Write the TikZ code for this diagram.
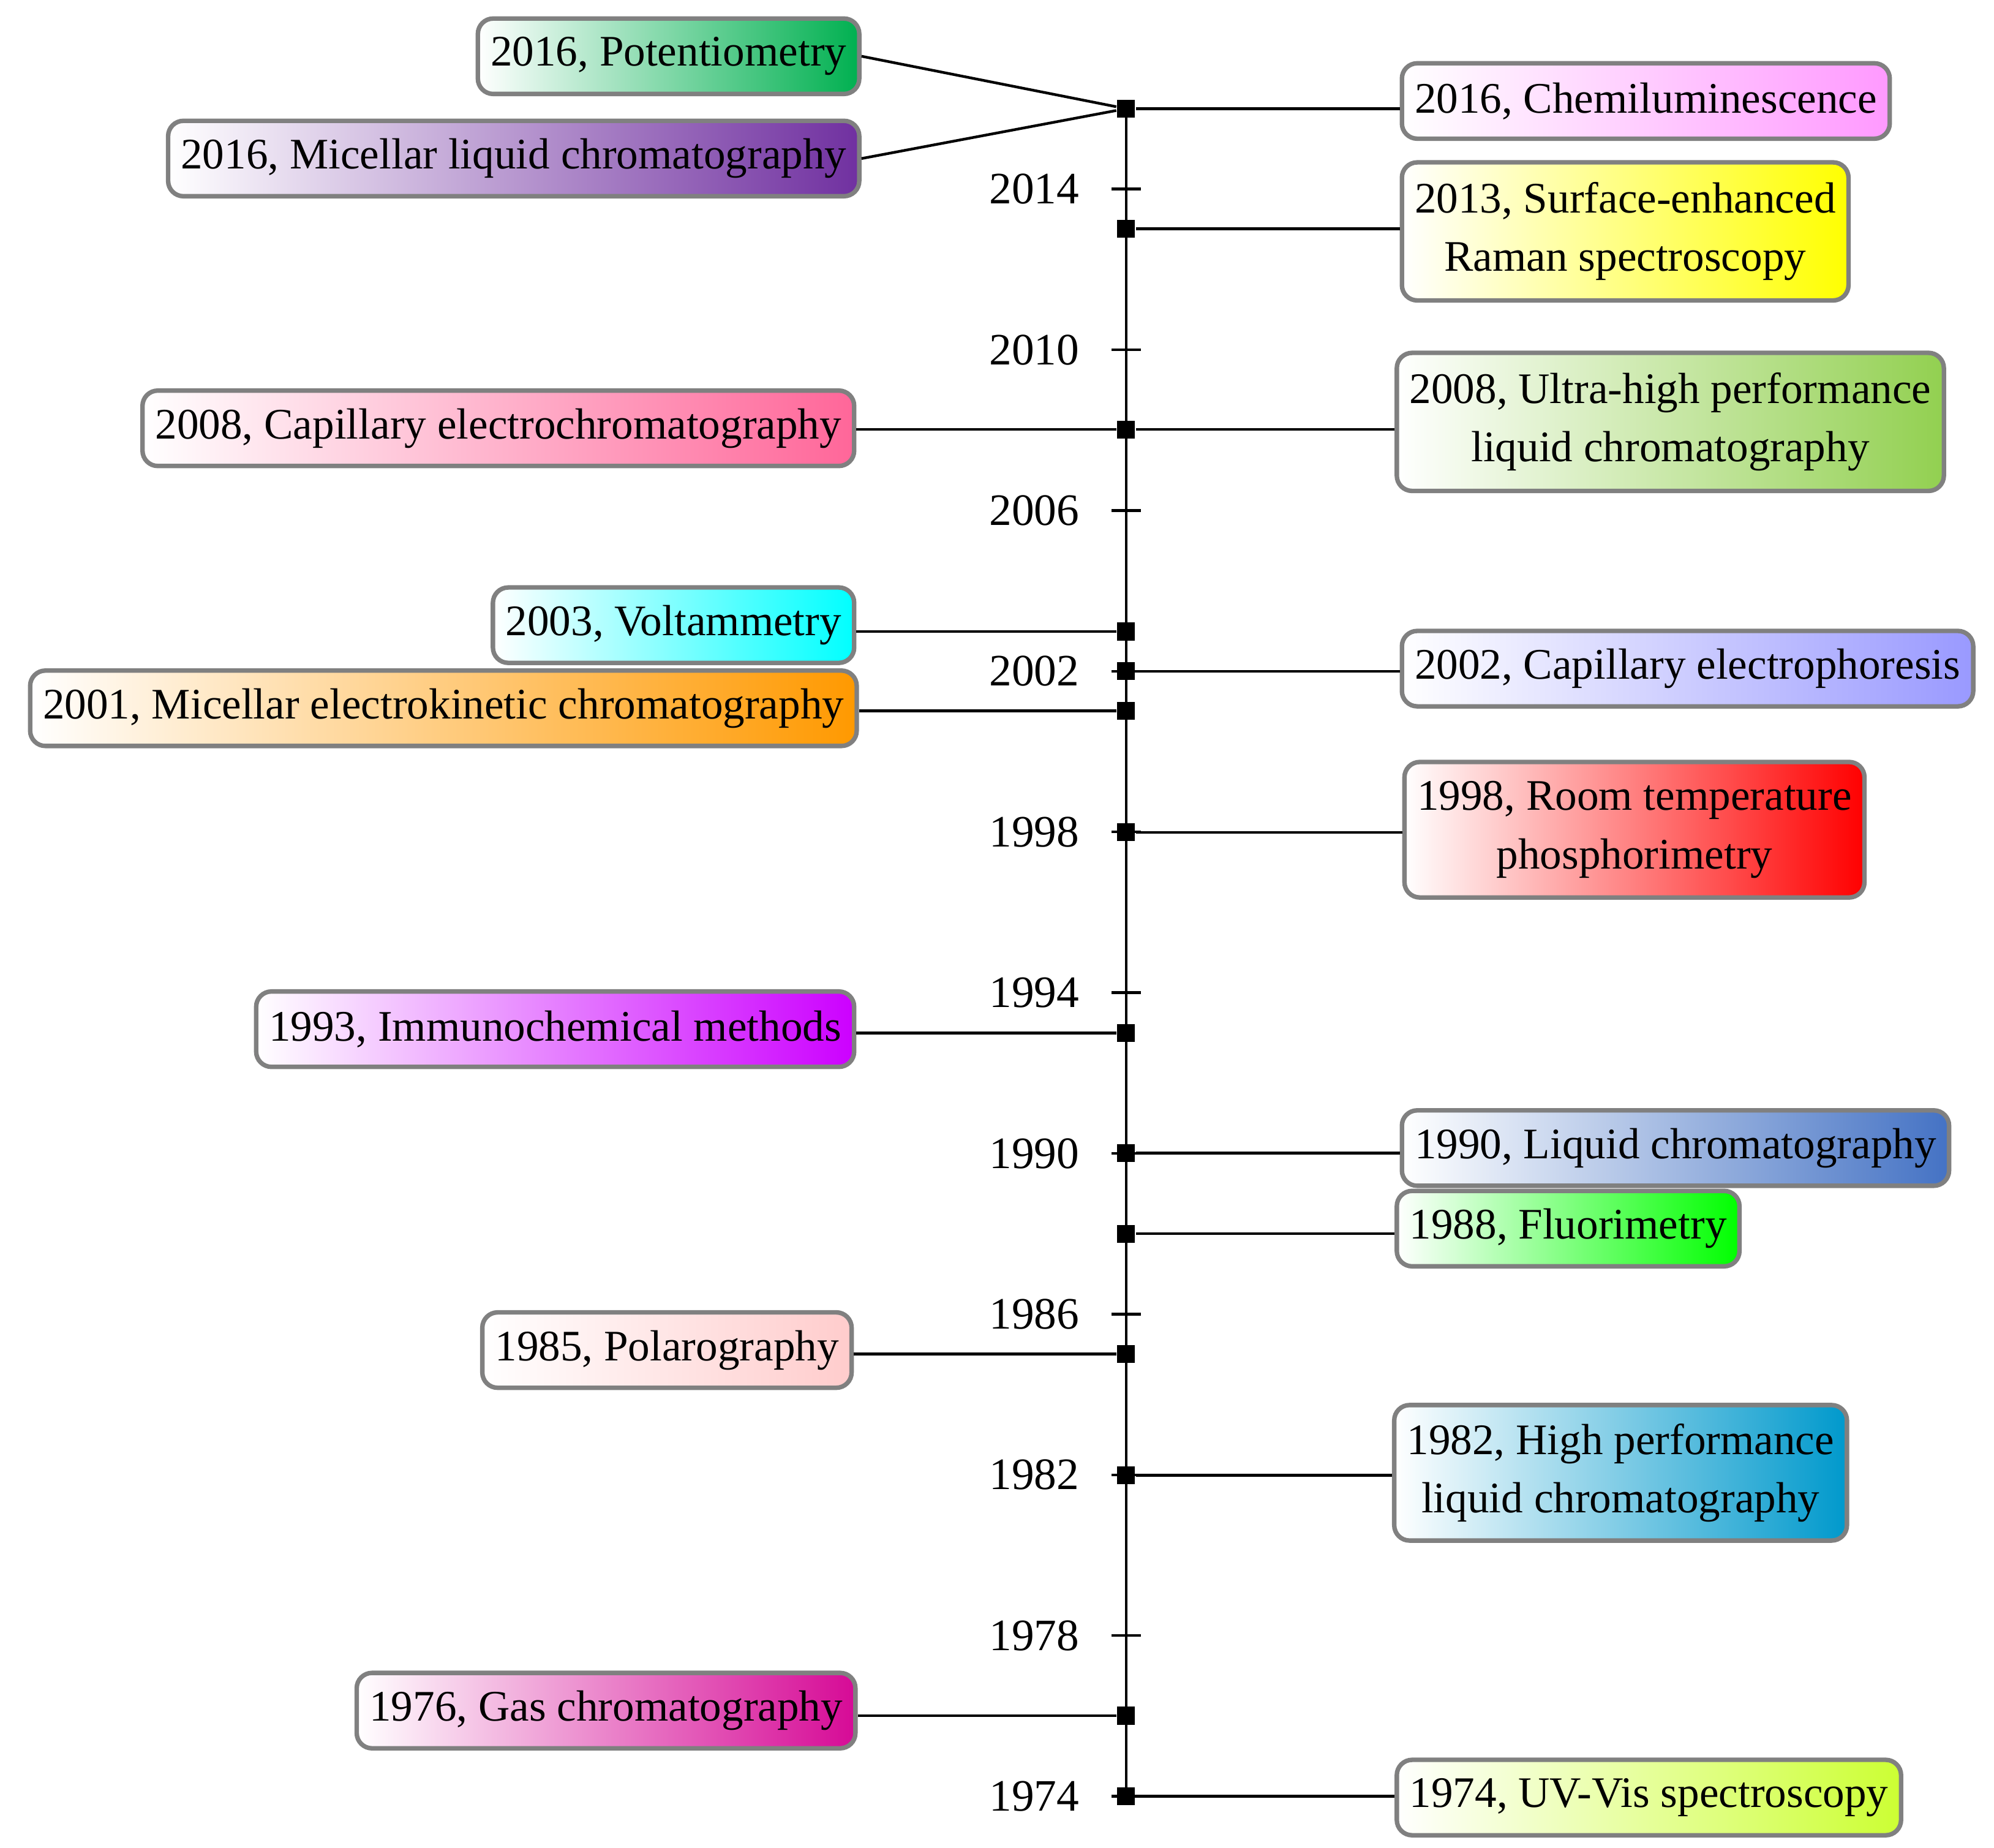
\documentclass[tikz,border=0pt]{standalone}
\usepackage{fontspec}
\setmainfont{Liberation Serif}
\usepackage{xcolor}
\usepackage{tikz}
\definecolor{potgreen}{RGB}{0, 176, 80}
\definecolor{mlcpurple}{RGB}{112, 48, 160}
\definecolor{cecpink}{RGB}{255, 102, 153}
\definecolor{voltcyan}{RGB}{0, 255, 255}
\definecolor{mekcorange}{RGB}{255, 153, 0}
\definecolor{immviolet}{RGB}{204, 0, 255}
\definecolor{polpink}{RGB}{255, 204, 204}
\definecolor{gcmagenta}{RGB}{214, 10, 150}
\definecolor{chemipink}{RGB}{255, 153, 255}
\definecolor{sersyellow}{RGB}{255, 255, 0}
\definecolor{uhplcgreen}{RGB}{146, 208, 80}
\definecolor{ceblue}{RGB}{153, 153, 255}
\definecolor{rtpred}{RGB}{255, 0, 0}
\definecolor{lcblue}{RGB}{68, 114, 196}
\definecolor{fluorgreen}{RGB}{0, 255, 0}
\definecolor{hplcblue}{RGB}{0, 153, 204}
\definecolor{uvgreen}{RGB}{204, 255, 51}
\tikzset{
  evbox/.style={draw=gray, line width=1pt, rounded corners=0.12cm,
    shading=axis, left color=white, right color=#1,
    minimum height=0.59cm, inner xsep=0.1cm, align=center,
    font=\fontsize{9.7}{13}\selectfont},
  yrsq/.style={fill=black, minimum size=0.14cm, inner sep=0pt},
  yrlbl/.style={anchor=east, inner sep=0pt, font=\fontsize{10}{12}\selectfont},
  link/.style={line width=0.6pt}
}

\begin{document}
\begin{tikzpicture}
\useasboundingbox (0,0) rectangle (15.6,14.45);

% Time axis
\coordinate (axtop) at (8.81,13.60);
\coordinate (axbot) at (8.81,0.40);
\draw[link] (axtop) -- (axbot);
\foreach \yr [count=\i from 0] in {1974,1978,...,2014} {
  \draw[link] (8.695,0.40+\i*1.25714) -- (8.925,0.40+\i*1.25714);
  \node[yrlbl] (yl\yr) at (8.45,0.40+\i*1.25714) {\yr};
}

% Year markers
\node[yrsq] (m2016) at (8.81,13.60) {};
\node[yrsq] (m2013) at (8.81,12.66) {};
\node[yrsq] (m2008) at (8.81,11.09) {};
\node[yrsq] (m2003) at (8.81,9.51) {};
\node[yrsq] (m2002) at (8.81,9.20) {};
\node[yrsq] (m2001) at (8.81,8.89) {};
\node[yrsq] (m1998) at (8.81,7.94) {};
\node[yrsq] (m1993) at (8.81,6.37) {};
\node[yrsq] (m1990) at (8.81,5.43) {};
\node[yrsq] (m1988) at (8.81,4.80) {};
\node[yrsq] (m1985) at (8.81,3.86) {};
\node[yrsq] (m1982) at (8.81,2.91) {};
\node[yrsq] (m1976) at (8.81,1.03) {};
\node[yrsq] (m1974) at (8.81,0.40) {};

% Left side methods
\node[evbox=potgreen, anchor=east] (pot) at (6.74,14.01) {2016, Potentiometry};
\node[evbox=mlcpurple, anchor=east] (mlc) at (6.74,13.21) {2016, Micellar liquid chromatography};
\node[evbox=cecpink, anchor=east] (cec) at (6.70,11.10) {2008, Capillary electrochromatography};
\node[evbox=voltcyan, anchor=east] (volt) at (6.70,9.56) {2003, Voltammetry};
\node[evbox=mekcorange, anchor=east] (mekc) at (6.72,8.91) {2001, Micellar electrokinetic chromatography};
\node[evbox=immviolet, anchor=east] (immuno) at (6.70,6.40) {1993, Immunochemical methods};
\node[evbox=polpink, anchor=east] (polaro) at (6.68,3.89) {1985, Polarography};
\node[evbox=gcmagenta, anchor=east] (gc) at (6.71,1.07) {1976, Gas chromatography};

% Right side methods
\node[evbox=chemipink, anchor=west] (chemi) at (10.95,13.66) {2016, Chemiluminescence};
\node[evbox=sersyellow, anchor=west, minimum height=1.08cm] (sers) at (10.95,12.64) {2013, Surface-enhanced\\Raman spectroscopy};
\node[evbox=uhplcgreen, anchor=west, minimum height=1.08cm] (uhplc) at (10.91,11.15) {2008, Ultra-high performance\\liquid chromatography};
\node[evbox=ceblue, anchor=west] (ce) at (10.95,9.22) {2002, Capillary electrophoresis};
\node[evbox=rtpred, anchor=west, minimum height=1.06cm] (rtp) at (10.97,7.96) {1998, Room temperature\\phosphorimetry};
\node[evbox=lcblue, anchor=west] (lc) at (10.95,5.47) {1990, Liquid chromatography};
\node[evbox=fluorgreen, anchor=west] (fluor) at (10.91,4.84) {1988, Fluorimetry};
\node[evbox=hplcblue, anchor=west, minimum height=1.06cm] (hplc) at (10.89,2.93) {1982, High performance\\liquid chromatography};
\node[evbox=uvgreen, anchor=west] (uvvis) at (10.91,0.39) {1974, UV-Vis spectroscopy};

% Connectors
\draw[link] (m2016) -- (pot.east);
\draw[link] (m2016) -- (mlc.east);
\draw[link] (m2008) -- (m2008 -| cec.east);
\draw[link] (m2003) -- (m2003 -| volt.east);
\draw[link] (m2001) -- (m2001 -| mekc.east);
\draw[link] (m1993) -- (m1993 -| immuno.east);
\draw[link] (m1985) -- (m1985 -| polaro.east);
\draw[link] (m1976) -- (m1976 -| gc.east);
\draw[link] (m2016) -- (m2016 -| chemi.west);
\draw[link] (m2013) -- (m2013 -| sers.west);
\draw[link] (m2008) -- (m2008 -| uhplc.west);
\draw[link] (m2002) -- (m2002 -| ce.west);
\draw[link] (m1998) -- (m1998 -| rtp.west);
\draw[link] (m1990) -- (m1990 -| lc.west);
\draw[link] (m1988) -- (m1988 -| fluor.west);
\draw[link] (m1982) -- (m1982 -| hplc.west);
\draw[link] (m1974) -- (m1974 -| uvvis.west);
\end{tikzpicture}
\end{document}
